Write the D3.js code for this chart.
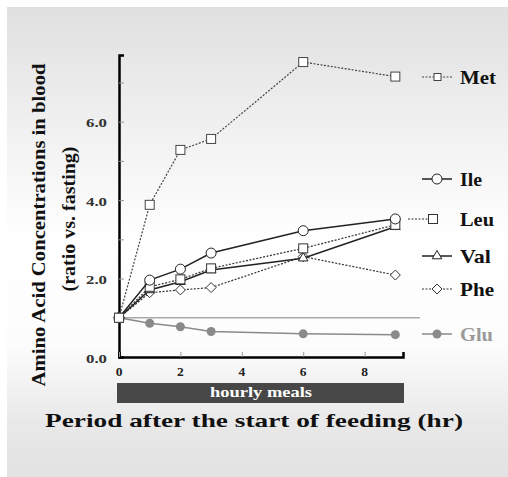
<!DOCTYPE html>
<html>
<head>
<meta charset="utf-8">
<script src="https://cdn.jsdelivr.net/npm/d3@7"></script>
<style>
  body { margin: 0; background: #fff; }
  svg { display: block; }
  text { font-family: "Liberation Serif", "Times New Roman", serif; font-weight: bold; }
</style>
</head>
<body>
<div id="chart"></div>
<script>
const hours = [0, 1, 2, 3, 6, 9];
const met = [1.0, 3.88, 5.28, 5.56, 7.52, 7.15];
const ile = [1.0, 1.96, 2.24, 2.65, 3.22, 3.52];
const leu = [1.0, 1.79, 1.98, 2.26, 2.77, 3.37];
const val = [1.0, 1.71, 1.92, 2.22, 2.52, 3.32];
const phe = [1.0, 1.64, 1.71, 1.77, 2.56, 2.09];
const glu = [1.0, 0.86, 0.77, 0.65, 0.59, 0.57];
const yTicks = [0, 2, 4, 6];
const xTicks = [0, 2, 4, 6, 8];

const W = 508, H = 477;
const svg = d3.select("#chart").append("svg").attr("width", W).attr("height", H);

// background panel
const grad = svg.append("defs").append("linearGradient")
  .attr("id", "bg").attr("x1", 0).attr("y1", 0).attr("x2", 0).attr("y2", 1);
[[0, "#e0e0e0"], [0.3, "#f3f3f3"], [0.5, "#ffffff"], [0.72, "#fcfcfc"], [0.88, "#e9e9e9"], [1, "#e2e2e2"]]
  .forEach(s => grad.append("stop").attr("offset", s[0]).attr("stop-color", s[1]));
svg.append("rect").attr("x", 7).attr("y", 7).attr("width", W - 7).attr("height", H - 7)
  .attr("fill", "url(#bg)");

const x = d3.scaleLinear().domain([0, 9.25]).range([119, 403]);
const y = d3.scaleLinear().domain([0, 7.7]).range([357, 55]);

// stretched serif text, the source used a wider face
function label(px, py, str, size, len, opts = {}) {
  const t = svg.append("text")
    .attr("font-size", size).attr("fill", opts.fill || "#111")
    .attr("text-anchor", opts.anchor || "start")
    .text(str);
  if (opts.rotate) t.attr("transform", `translate(${px},${py}) rotate(-90)`);
  else t.attr("x", px).attr("y", py);
  if (len) t.attr("textLength", len).attr("lengthAdjust", "spacingAndGlyphs");
  return t;
}

// reference line at 1.0
svg.append("line").attr("x1", x(0)).attr("x2", 420).attr("y1", y(1)).attr("y2", y(1))
  .attr("stroke", "#aaa").attr("stroke-width", 1.5);

// axes
const yAxis = svg.append("g").attr("transform", `translate(${x(0)},0)`)
  .call(d3.axisLeft(y).tickValues(d3.range(0, 7.5, 1)).tickSize(-5).tickFormat(""));
yAxis.select(".domain").attr("stroke", "#000").attr("stroke-width", 2.5);
yAxis.selectAll(".tick line").attr("stroke", "#999");

const xAxis = svg.append("g").attr("transform", `translate(0,${y(0)})`)
  .call(d3.axisBottom(x).tickValues(xTicks).tickSize(-5).tickFormat(""));
xAxis.select(".domain").attr("stroke", "#000").attr("stroke-width", 2.5);
xAxis.selectAll(".tick line").attr("stroke", "#999");

yTicks.forEach(d => label(107, y(d) + 5.5, d.toFixed(1), 13.5, 21, { anchor: "end", fill: "#333" }));
xTicks.forEach(d => label(x(d), 376, String(d), 13.5, null, { anchor: "middle", fill: "#222" }));

// hourly meals bar
svg.append("rect").attr("x", 117).attr("y", 383).attr("width", 287).attr("height", 20)
  .attr("fill", "#474747");
label(261, 397, "hourly meals", 15, 102, { anchor: "middle", fill: "#fff" });

label(254, 427, "Period after the start of feeding (hr)", 19, 418, { anchor: "middle" });
label(45, 225, "Amino Acid Concentrations in blood", 18, 323, { anchor: "middle", rotate: true });
label(75, 219, "(ratio vs. fasting)", 18, 145, { anchor: "middle", rotate: true });

const line = d3.line().x((d, i) => x(hours[i])).y(d => y(d));

function marker(g, shape, cx, cy, color) {
  if (shape === "square") {
    g.append("rect").attr("x", cx - 4.5).attr("y", cy - 4.5).attr("width", 9).attr("height", 9)
      .attr("fill", "#fff").attr("stroke", color).attr("stroke-width", 1);
  } else if (shape === "circle") {
    g.append("circle").attr("cx", cx).attr("cy", cy).attr("r", 5)
      .attr("fill", "#fff").attr("stroke", color).attr("stroke-width", 1);
  } else if (shape === "triangle") {
    g.append("path").attr("d", d3.symbol(d3.symbolTriangle, 40)())
      .attr("transform", `translate(${cx},${cy})`)
      .attr("fill", "#fff").attr("stroke", color).attr("stroke-width", 1);
  } else if (shape === "diamond") {
    g.append("path").attr("d", `M${cx},${cy - 5}L${cx + 5},${cy}L${cx},${cy + 5}L${cx - 5},${cy}Z`)
      .attr("fill", "#fff").attr("stroke", color).attr("stroke-width", 1);
  } else if (shape === "dot") {
    g.append("circle").attr("cx", cx).attr("cy", cy).attr("r", 4.5).attr("fill", color);
  }
}

const series = [
  { name: "Glu", values: glu, shape: "dot", color: "#8a8a8a", dash: null, width: 1.5, ly: 334, text: "#9a9a9a", tl: 33 },
  { name: "Phe", values: phe, shape: "diamond", color: "#333", dash: "2,1.5", width: 1.2, ly: 289, text: "#111", tl: 34 },
  { name: "Val", values: val, shape: "triangle", color: "#222", dash: null, width: 1.5, ly: 256, text: "#111", tl: 31 },
  { name: "Leu", values: leu, shape: "square", color: "#333", dash: "2,1.5", width: 1.2, ly: 219, text: "#111", tl: 34 },
  { name: "Ile", values: ile, shape: "circle", color: "#222", dash: null, width: 1.5, ly: 179, text: "#111", tl: 22 },
  { name: "Met", values: met, shape: "square", color: "#444", dash: "2,1.5", width: 1.2, ly: 77, text: "#111", tl: 36 }
];

series.forEach(s => {
  const g = svg.append("g");
  g.append("path").datum(s.values).attr("d", line)
    .attr("fill", "none").attr("stroke", s.color).attr("stroke-width", s.width)
    .attr("stroke-dasharray", s.dash);
  s.values.forEach((v, i) => marker(g, s.shape, x(hours[i]), y(v), s.color));

  // legend
  const lg = svg.append("g");
  if (s.name === "Leu") {
    lg.append("line").attr("x1", 408).attr("x2", 428).attr("y1", s.ly).attr("y2", s.ly)
      .attr("stroke", s.color).attr("stroke-width", 1.2).attr("stroke-dasharray", s.dash);
    marker(lg, s.shape, 433, s.ly, s.color);
  } else {
    lg.append("line").attr("x1", 422).attr("x2", 452).attr("y1", s.ly).attr("y2", s.ly)
      .attr("stroke", s.color).attr("stroke-width", s.width).attr("stroke-dasharray", s.dash);
    if (s.name === "Met") {
      lg.append("rect").attr("x", 434).attr("y", s.ly - 3.5).attr("width", 7).attr("height", 7)
        .attr("fill", "#fff").attr("stroke", s.color);
    } else {
      marker(lg, s.shape, 437, s.ly, s.color);
    }
  }
  label(460, s.ly + 6.5, s.name, 19, s.tl, { fill: s.text });
});
</script>
</body>
</html>
